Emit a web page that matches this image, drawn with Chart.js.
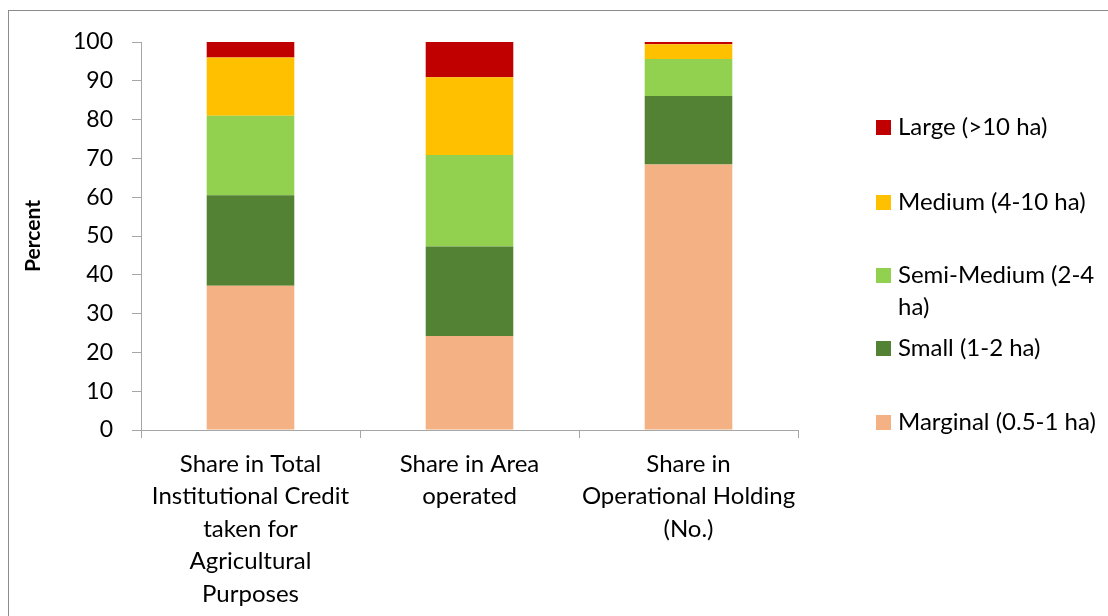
<!DOCTYPE html>
<html>
<head>
<meta charset="utf-8">
<script src="https://cdn.jsdelivr.net/npm/chart.js@4"></script>
<style>
  html, body { margin: 0; padding: 0; background: #fff; overflow: hidden; }
  #wrap { position: relative; width: 1108px; height: 616px; }
  #frame { position: absolute; left: 8px; top: 10px; width: 1200px; height: 700px; border: 1px solid #8c8c8c; }
  #myChart { position: absolute; left: 0; top: 0; }
  #legend { position: absolute; left: 876px; top: 0; font-family: Lato, sans-serif; font-size: 24px; color: #000; }
  .item { position: absolute; left: 0; width: 232px; }
  .box { position: absolute; left: 0; top: 10px; width: 15px; height: 15px; }
  .txt { position: absolute; left: 22px; top: 0; line-height: 32px; white-space: nowrap; }
</style>
</head>
<body>
<div id="wrap">
  <div id="frame"></div>
  <canvas id="myChart" width="1108" height="616"></canvas>
  <div id="legend"></div>
</div>
<script>
// categorias del eje x (en lineas)
const categorias = [
  ["Share in Total", "Institutional Credit", "taken for", "Agricultural", "Purposes"],
  ["Share in Area", "operated"],
  ["Share in", "Operational Holding", "(No.)"]
];

const series = ["Marginal (0.5-1 ha)", "Small (1-2 ha)", "Semi-Medium (2-4 ha)", "Medium (4-10 ha)", "Large (>10 ha)"];
const colores = ["#F4B183", "#548235", "#92D050", "#FFC000", "#C00000"];

const marginal = [37.2, 24.2, 68.4];
const small = [23.3, 23.1, 17.7];
const semiMedium = [20.5, 23.6, 9.5];
const medium = [15.0, 20.0, 3.8];
const large = [4.0, 9.1, 0.6];

const valores = [marginal, small, semiMedium, medium, large];

const datasets = series.map((nombre, i) => ({
  label: nombre,
  data: valores[i],
  backgroundColor: colores[i],
  borderWidth: 0,
  barPercentage: 0.4,
  categoryPercentage: 1
}));

const ejeColor = "#a6a6a6";

const config = {
  type: 'bar',
  data: { labels: categorias, datasets: datasets },
  options: {
    responsive: false,
    animation: false,
    layout: { padding: { left: 21, top: 42, right: 310, bottom: 0 } },
    plugins: { legend: { display: false }, tooltip: { enabled: false } },
    scales: {
      x: {
        stacked: true,
        offset: true,
        afterFit: s => { s.height = 186; },
        grid: { offset: true, drawOnChartArea: false, drawTicks: true, tickLength: 8, color: ejeColor, lineWidth: 1 },
        border: { color: ejeColor, width: 1 },
        ticks: { color: '#000', padding: 10, maxRotation: 0, autoSkip: false, font: { family: 'Lato', size: 24, lineHeight: 1.354 } }
      },
      y: {
        stacked: true,
        min: 0, max: 100,
        afterFit: s => { s.width = 120; },
        grid: { drawOnChartArea: false, drawTicks: true, tickLength: 9, color: ejeColor },
        border: { color: ejeColor, width: 1 },
        ticks: { stepSize: 10, color: '#000', padding: 19, font: { family: 'Lato', size: 23 } },
        title: { display: true, text: 'Percent', color: '#000', padding: 0, font: { family: 'Lato', size: 21, weight: 'bold' } }
      }
    }
  }
};

const myChart = new Chart(document.getElementById('myChart'), config);

// leyenda a mano (de arriba abajo: Large ... Marginal)
const tops = [110, 185, 258, 331, 405];
const leyenda = document.getElementById('legend');
for (let k = 0; k < series.length; k++) {
  const i = series.length - 1 - k;
  const item = document.createElement('div');
  item.className = 'item';
  item.style.top = tops[k] + 'px';
  let texto = series[i];
  if (texto === "Semi-Medium (2-4 ha)") texto = "Semi-Medium (2-4<br>ha)";
  item.innerHTML = '<div class="box" style="background:' + colores[i] + '"></div><div class="txt">' + texto + '</div>';
  leyenda.appendChild(item);
}
</script>
</body>
</html>
